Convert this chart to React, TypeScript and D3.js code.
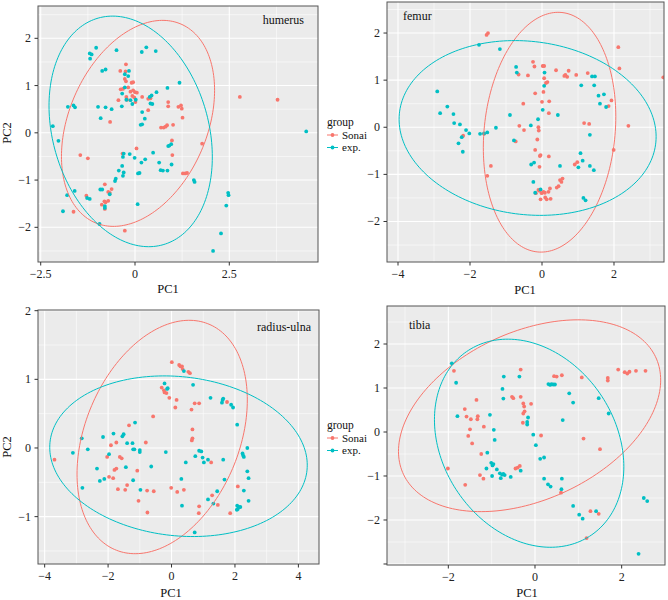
import React from "react";
import * as d3 from "d3";

type Pt = [number, number];

// ---------- DATA ----------
const groups = ["Sonai", "exp."];
const groupColors = ["#F8766D", "#00BFC4"];
const panelTitles = ["humerus", "femur", "radius-ulna", "tibia"];

const humerusSonai: Pt[] = [
  [-0.24, 1.45], [-0.39, 1.31], [-0.25, 1.3], [-0.27, 1.14], [-0.24, 1.09], [-0.09, 1.06], [-0.05, 1.07],
  [-0.38, 0.92], [-0.32, 0.93], [-0.18, 0.96], [-0.12, 0.87], [-0.05, 0.9], [0, 0.86], [0.05, 0.85],
  [-0.07, 0.78], [-0.02, 0.75], [-0.23, 0.76], [-0.21, 0.7], [-0.44, 0.69], [0.01, 0.65], [0.19, 0.76],
  [0.35, 0.72], [0.41, 0.73], [0.35, 0.48], [-0.66, 0.23], [0.69, 0.11], [0.76, 0.11], [0.81, 0.13],
  [0.85, 0.16], [1.01, 0.17], [0.88, 0.65], [0.88, 0.56], [1.15, 0.55], [1.22, 0.58], [1.24, 0.51],
  [1.26, 0.32], [2.78, 0.76], [3.78, 0.7], [1.78, -0.23], [0.98, -0.16], [0.99, -0.47], [0.04, -0.33],
  [-0.33, -0.44], [-1.45, -0.47], [-1.25, -0.54], [1.27, -0.86], [1.33, -0.86], [1.38, -0.85],
  [-0.8, -1.09], [-0.62, -1.19], [-0.67, -1.27], [-0.71, -1.25], [-1.29, -1.33], [-0.78, -1.47],
  [-0.81, -1.45], [-0.88, -1.52], [-0.8, -1.61], [-0.71, -1.44], [-1.63, -1.67], [-0.27, -2.07],
];
const humerusExp: Pt[] = [
  [-2.18, 0.14], [-2.03, -0.17], [-1.78, 0.55], [-1.63, 0.58], [-1.59, 0.54], [-1.2, 1.68], [-1.15, 1.66],
  [-1.19, 1.57], [-1.03, 1.8], [-0.87, 1.31], [-0.78, 1.34], [-0.98, 0.55], [-0.91, 0.31], [-0.78, 0.54],
  [-0.62, 0.5], [-0.49, 1.75], [-0.34, 0.83], [-0.27, 1.24], [-0.16, 1.31], [-0.18, 1.2], [-0.27, 0.96],
  [-0.23, 0.7], [-0.12, 0.69], [-0.07, 0.61], [0.02, 0.7], [-0.35, 0.56], [0.18, 1.71], [0.3, 1.81],
  [0.55, 1.73], [0.19, 0.44], [0.26, 0.3], [0.19, 0.18], [0.15, 0.17], [0.39, 0.76], [0.44, 0.79],
  [0.41, 0.62], [0.46, 0.61], [0.57, 0.86], [0.86, 0.95], [1.18, 1.06], [-0.14, -0.45], [-0.01, -0.53],
  [-0.3, -0.44], [-0.32, -0.51], [-0.34, -0.7], [-0.3, -0.84], [-0.32, -0.91], [-0.43, -0.8],
  [-0.51, -0.97], [-0.53, -1.02], [0.08, -0.86], [0.12, -0.85], [0.17, -0.63], [0.27, -0.56],
  [0.48, -0.42], [0.64, -0.63], [0.68, -0.79], [0.74, -0.8], [0.86, -0.8], [0.88, -0.28], [0.91, -0.27],
  [0.96, -0.24], [0.97, -0.67], [1.56, -1.0], [1.58, -1.04], [0.07, -1.51], [-0.92, -1.2], [-0.87, -1.2],
  [-0.8, -1.55], [-0.8, -1.59], [-0.67, -1.3], [-1.27, -1.38], [-1.2, -1.4], [-1.6, -1.23], [-1.8, -1.32],
  [-1.91, -1.66], [-0.94, -1.93], [2.47, -1.27], [2.48, -1.32], [2.42, -1.54], [2.28, -2.13],
  [2.07, -2.5], [4.54, 0.03],
];

const femurSonai: Pt[] = [
  [-1.54, 1.96], [-1.5, 2.0], [-0.25, 1.39], [-0.21, 1.29], [0.02, 1.3], [0.06, 1.3], [-0.65, 1.12],
  [-0.39, 1.1], [0.39, 1.21], [0.74, 1.2], [0.65, 1.11], [0.7, 1.07], [0.62, 1.09], [0.95, 1.11],
  [1.27, 1.15], [2.12, 1.7], [2.15, 1.25], [3.37, 1.06], [0.06, 1.04], [0.11, 0.94], [0.15, 0.96],
  [-0.19, 0.72], [0.04, 0.75], [0.0, 0.54], [0.2, 0.55], [0.19, 0.3], [-0.52, 0.5], [-0.63, 0.03],
  [-0.5, -0.06], [-0.1, 0.0], [-0.09, -0.07], [-0.13, -0.26], [-0.19, -0.48], [-0.06, -0.61],
  [-0.04, -0.59], [0.19, -0.62], [-0.07, -0.84], [-1.42, -0.82], [-1.52, -1.03], [-0.73, -0.3],
  [-2.19, -0.18], [-1.61, -0.14], [1.17, 0.09], [1.31, 0.07], [1.85, 0.45], [1.93, 0.57], [2.4, 0.03],
  [1.99, -0.48], [0.91, -0.79], [0.98, -0.74], [0.57, -1.09], [0.54, -1.16], [0.5, -1.12], [0.46, -1.25],
  [0.41, -1.28], [0.22, -1.3], [0.18, -1.37], [0.08, -1.39], [0.04, -1.37], [-0.01, -1.4], [-0.1, -1.33],
  [-0.17, -1.4], [0.09, -1.49], [0.13, -1.53], [-0.04, -1.53], [0.24, -1.52], [-0.07, -1.35],
];
const femurExp: Pt[] = [
  [-1.75, 1.75], [-1.17, 1.66], [-0.72, 1.28], [-0.7, 1.16], [0.07, 1.16], [0.06, 0.88], [0.02, 0.37],
  [-0.11, 0.17], [-0.31, 0.04], [0.44, 0.26], [-0.89, 0.26], [-1.28, -0.01], [-2.91, 0.76], [-2.63, 0.44],
  [-2.83, 0.3], [-2.46, 0.28], [-2.44, 0.09], [-2.28, 0.06], [-2.11, -0.06], [-2.02, -0.13],
  [-2.23, -0.21], [-2.32, -0.34], [-2.2, -0.52], [-1.72, -0.14], [-1.61, -0.13], [-1.52, -0.11],
  [-0.78, -0.28], [-0.3, -0.79], [-0.22, -0.75], [-0.24, -1.16], [-0.04, -1.32], [-0.19, -1.39],
  [0.5, -0.82], [1.09, 0.89], [1.39, 1.08], [1.47, 1.08], [1.45, 0.89], [1.57, 0.67], [1.61, 0.5],
  [1.72, 0.7], [1.78, 0.43], [1.07, -0.55], [1.01, -0.85], [1.13, -0.71], [1.33, -0.16], [1.33, -0.82],
  [1.44, -0.91], [1.15, -1.5], [1.21, -1.55],
];

const radiusSonai: Pt[] = [
  [0.01, 1.25], [0.24, 1.21], [0.28, 1.19], [0.33, 1.19], [0.35, 1.15], [0.53, 1.11], [0.58, 1.09],
  [-0.31, 0.88], [-0.24, 0.84], [-0.22, 0.81], [-0.16, 0.8], [-0.07, 0.73], [0.16, 0.7], [0.12, 0.59],
  [0.73, 0.65], [0.87, 0.65], [0.63, 0.56], [1.75, 0.67], [0.66, 0.27], [0.66, 0.14], [0.64, 0.11],
  [-0.58, 0.46], [-1.34, 0.33], [-1.74, 0.08], [-1.91, 0.04], [-2.03, -0.13], [-1.63, -0.13],
  [-1.57, -0.15], [-0.81, 0.08], [-1.8, -0.32], [-1.74, -0.3], [-1.97, -0.42], [-1.84, -0.44],
  [-1.4, -0.54], [-1.08, -0.33], [-1.69, -0.6], [-1.46, -0.61], [-1.04, -0.77], [-0.77, -0.62],
  [-0.56, -0.63], [-0.76, -0.94], [-3.69, -0.17], [-0.01, -0.58], [0.18, -0.64], [0.39, -0.61],
  [1.25, -0.21], [1.28, -0.69], [1.46, -0.83], [0.87, -0.85], [0.86, -0.95], [2.09, -0.56], [1.85, -0.95],
];
const radiusExp: Pt[] = [
  [0.39, 1.12], [-0.22, 0.94], [-0.12, 0.87], [-0.14, 0.86], [0.68, 0.92], [1.23, 0.73], [1.61, 0.7],
  [1.63, 0.72], [1.59, 0.66], [1.88, 0.63], [1.94, 0.59], [2.07, 0.34], [-2.83, 0.14], [-3.11, -0.07],
  [-2.64, -0.02], [-2.81, -0.58], [-2.16, 0.16], [-1.97, -0.09], [-1.83, 0.21], [-1.55, 0.17],
  [-1.51, 0.2], [-1.4, 0.07], [-1.15, 0.37], [-1.23, 0.07], [-1.21, -0.02], [-1.17, -0.02], [-1.0, -0.03],
  [-1.0, -0.06], [-1.44, -0.28], [-2.35, -0.3], [-2.26, -0.48], [-2.12, -0.45], [-1.21, -0.47],
  [-0.98, -0.61], [-0.64, -0.27], [-0.18, -0.06], [0.45, -0.21], [0.31, -0.45], [0.33, -0.84],
  [0.75, -0.12], [0.87, -0.04], [0.94, -0.05], [0.98, -0.14], [1.02, -0.21], [1.15, -0.17], [1.63, -0.17],
  [1.67, -0.46], [1.44, -0.63], [1.15, -0.75], [1.32, -0.81], [0.73, -1.23], [2.39, 0.0], [2.24, -0.08],
  [2.26, -0.11], [2.28, -0.13], [2.39, -0.34], [2.43, -0.44], [2.28, -0.62], [2.43, -0.77], [2.07, -0.84],
  [2.12, -0.86], [2.09, -0.89], [2.17, -0.86], [2.06, -0.9],
];

const tibiaSonai: Pt[] = [
  [-1.87, 1.39], [-0.33, 1.42], [0.44, 1.27], [0.5, 1.26], [0.62, 1.29], [1.08, 1.24], [1.68, 1.23],
  [1.68, 1.17], [1.92, 1.42], [2.07, 1.36], [2.13, 1.33], [2.18, 1.37], [2.33, 1.39], [2.55, 1.39],
  [-1.35, 0.73], [-1.62, 0.52], [-1.58, 0.35], [-1.48, 0.29], [-1.32, 0.36], [-1.33, 0.29], [-1.18, 0.12],
  [-1.5, 0.06], [-1.54, -0.09], [-1.45, -0.26], [-1.24, -0.5], [-0.53, 0.8], [-0.5, 0.77], [-0.33, 0.8],
  [-0.27, 0.65], [-0.25, 0.58], [-0.24, 0.47], [-0.27, 0.42], [-0.09, 0.64], [-0.28, 0.21], [0.14, -0.08],
  [1.12, -0.15], [1.5, -0.39], [-0.45, -0.83], [-0.4, -0.81], [-0.35, -0.77], [-2.01, -0.83],
  [-1.27, -0.98], [-1.19, -1.06], [-1.61, -1.2], [0.6, -1.38], [1.28, -1.8], [1.47, -1.86], [1.19, -2.41],
];
const tibiaExp: Pt[] = [
  [-1.92, 1.56], [-1.82, 1.12], [-1.79, 0.36], [-0.72, 1.26], [-0.36, 1.26], [-0.75, 0.98], [-0.73, 0.76],
  [0.31, 1.09], [0.35, 1.07], [0.38, 1.09], [0.42, 1.08], [0.46, 1.08], [0.79, 0.88], [0.88, 0.67],
  [1.47, 0.77], [1.7, 0.42], [0.64, 0.27], [-1.04, 0.39], [-0.95, 0.05], [-0.93, -0.18], [-1.1, -0.47],
  [-0.16, 0.33], [-0.18, 0.23], [-0.18, 0.17], [-0.04, -0.06], [0.02, -0.3], [0.12, -0.61], [0.21, -0.58],
  [-1.01, -0.7], [-0.96, -0.73], [-0.98, -0.76], [-1.12, -0.83], [-0.88, -0.85], [-0.99, -1.0],
  [-0.81, -0.94], [-0.76, -0.97], [-0.73, -0.95], [-0.7, -0.98], [-0.79, -1.05], [-0.56, -1.02],
  [-0.33, -0.88], [0.21, -1.06], [0.3, -1.19], [0.36, -1.24], [0.62, -1.06], [0.61, -1.3], [0.88, -1.68],
  [1.02, -1.88], [1.1, -1.97], [1.41, -1.8], [2.39, -2.77], [2.51, -1.5], [2.59, -1.57],
];

// ellipse: [centerX, centerY, halfWidth, halfHeight, yOffsetAtRightmost]
const humerusEllipses = [[0.08, 0.2, 2.03, 2.18, 0.7], [-0.115, 0.03, 2.165, 2.44, -0.54]];
const femurEllipses = [[0.21, -0.105, 1.84, 2.545, 0.33], [-0.4, -0.015, 3.57, 1.855, -0.185]];
const radiusEllipses = [[-0.295, 0.16, 2.685, 1.7, 0.54], [0.22, -0.12, 4.06, 1.17, -0.13]];
const tibiaEllipses = [[-0.125, 0.37, 3.025, 2.18, 0.81], [-0.135, -0.255, 2.185, 2.365, -0.535]];

const humerusXTicks = [-2.5, 0, 2.5];
const femurXTicks = [-4, -2, 0, 2];
const radiusXTicks = [-4, -2, 0, 2, 4];
const tibiaXTicks = [-2, 0, 2];
const humerusYTicks = [-2, -1, 0, 1, 2];
const femurYTicks = [-2, -1, 0, 1, 2];
const radiusYTicks = [-1, 0, 1, 2];
const tibiaYTicks = [-3, -2, -1, 0, 1, 2];

// ---------- LAYOUT ----------
const FONT = "'Liberation Serif', 'Times New Roman', serif";

interface PanelCfg {
  title: string;
  series: Pt[][];
  ellipses: number[][];
  xTicks: number[];
  yTicks: number[];
  xDomain: [number, number];
  yDomain: [number, number];
  box: { l: number; r: number; t: number; b: number };
  titlePos: [number, number];
  xTitlePos: [number, number];
  yTitlePos: [number, number] | null;
  hiddenYLabels?: number[];
  legend?: [number, number];
}

const panels: PanelCfg[] = [
  {
    title: panelTitles[0], series: [humerusSonai, humerusExp], ellipses: humerusEllipses,
    xTicks: humerusXTicks, yTicks: humerusYTicks, xDomain: [-2.572, 4.852], yDomain: [-2.734, 2.684],
    box: { l: 38, r: 318, t: 6, b: 262 }, titlePos: [304, 24], xTitlePos: [168, 293], yTitlePos: [11, 133],
    legend: [327, 122],
  },
  {
    title: panelTitles[1], series: [femurSonai, femurExp], ellipses: femurEllipses,
    xTicks: femurXTicks, yTicks: femurYTicks, xDomain: [-4.306, 3.389], yDomain: [-2.86, 2.659],
    box: { l: 387, r: 664, t: 2, b: 262 }, titlePos: [403, 20], xTitlePos: [525, 294], yTitlePos: null,
  },
  {
    title: panelTitles[2], series: [radiusSonai, radiusExp], ellipses: radiusEllipses,
    xTicks: radiusXTicks, yTicks: radiusYTicks, xDomain: [-4.21, 4.65], yDomain: [-1.69, 2.01],
    box: { l: 38, r: 319, t: 310, b: 564 }, titlePos: [311, 331], xTitlePos: [171, 597], yTitlePos: [11, 447],
    legend: [327, 425],
  },
  {
    title: panelTitles[3], series: [tibiaSonai, tibiaExp], ellipses: tibiaEllipses,
    xTicks: tibiaXTicks, yTicks: tibiaYTicks, xDomain: [-3.415, 3.0], yDomain: [-3.023, 2.864],
    box: { l: 387, r: 665, t: 306, b: 565 }, titlePos: [409, 329], xTitlePos: [527, 597], yTitlePos: null,
    hiddenYLabels: [-3],
  },
];

const fmt = (v: number) => String(v).replace("-", "\u2212");

function minorBreaks(ticks: number[], domain: [number, number]) {
  const step = ticks[1] - ticks[0];
  const res: number[] = [];
  for (let v = ticks[0] - step * 2; v <= ticks[ticks.length - 1] + step * 2 + 1e-9; v += step) {
    const m = v + step / 2;
    if (m >= domain[0] && m <= domain[1]) res.push(m);
  }
  return res;
}

function Panel({ cfg, idx }: { cfg: PanelCfg; idx: number }) {
  const { box } = cfg;
  const x = d3.scaleLinear().domain(cfg.xDomain).range([box.l, box.r]);
  const y = d3.scaleLinear().domain(cfg.yDomain).range([box.b, box.t]);
  const xMinor = minorBreaks(cfg.xTicks, cfg.xDomain);
  const yMinor = minorBreaks(cfg.yTicks, cfg.yDomain);
  const clipId = `clip${idx}`;
  const line = d3.line<Pt>().x((d) => x(d[0])).y((d) => y(d[1])).curve(d3.curveLinearClosed);
  const ellipsePts = (e: number[]): Pt[] => {
    const [cx, cy, W, H, k] = e;
    const s = Math.sqrt(Math.max(H * H - k * k, 0));
    return d3.range(0, 200).map((i) => {
      const t = (i / 200) * Math.PI * 2;
      return [cx + W * Math.cos(t), cy + k * Math.cos(t) + s * Math.sin(t)] as Pt;
    });
  };
  const inX = (v: number) => v >= cfg.xDomain[0] && v <= cfg.xDomain[1];
  const inY = (v: number) => v >= cfg.yDomain[0] && v <= cfg.yDomain[1];
  return (
    <g>
      <defs>
        <clipPath id={clipId}>
          <rect x={box.l} y={box.t} width={box.r - box.l} height={box.b - box.t} />
        </clipPath>
      </defs>
      <rect x={box.l} y={box.t} width={box.r - box.l} height={box.b - box.t} fill="#EBEBEB" />
      {xMinor.map((v) => (
        <line key={"xm" + v} x1={x(v)} x2={x(v)} y1={box.t} y2={box.b} stroke="#fff" strokeWidth={0.55} />
      ))}
      {yMinor.map((v) => (
        <line key={"ym" + v} x1={box.l} x2={box.r} y1={y(v)} y2={y(v)} stroke="#fff" strokeWidth={0.55} />
      ))}
      {cfg.xTicks.filter(inX).map((v) => (
        <line key={"xg" + v} x1={x(v)} x2={x(v)} y1={box.t} y2={box.b} stroke="#fff" strokeWidth={1.1} />
      ))}
      {cfg.yTicks.filter(inY).map((v) => (
        <line key={"yg" + v} x1={box.l} x2={box.r} y1={y(v)} y2={y(v)} stroke="#fff" strokeWidth={1.1} />
      ))}
      <g clipPath={`url(#${clipId})`}>
        {cfg.series.map((s, gi) =>
          s.map((d, i) => (
            <circle key={gi + "-" + i} cx={x(d[0])} cy={y(d[1])} r={1.9} fill={groupColors[gi]} />
          ))
        )}
        {cfg.ellipses.map((e, gi) => (
          <path key={"e" + gi} d={line(ellipsePts(e)) || ""} fill="none" stroke={groupColors[gi]} strokeWidth={1} />
        ))}
      </g>
      <rect x={box.l} y={box.t} width={box.r - box.l} height={box.b - box.t} fill="none" stroke="#555" strokeWidth={1} />
      {cfg.xTicks.filter(inX).map((v) => (
        <g key={"xt" + v}>
          <line x1={x(v)} x2={x(v)} y1={box.b} y2={box.b + 3.5} stroke="#333" />
          <text x={x(v)} y={box.b + 16} textAnchor="middle" fontSize={12} fontFamily={FONT} fill="#222">
            {fmt(v)}
          </text>
        </g>
      ))}
      {cfg.yTicks.filter(inY).map((v) => (
        <g key={"yt" + v}>
          <line x1={box.l - 3.5} x2={box.l} y1={y(v)} y2={y(v)} stroke="#333" />
          {!(cfg.hiddenYLabels || []).includes(v) && (
            <text x={box.l - 7} y={y(v) + 4} textAnchor="end" fontSize={12} fontFamily={FONT} fill="#222">
              {fmt(v)}
            </text>
          )}
        </g>
      ))}
      <text x={cfg.titlePos[0]} y={cfg.titlePos[1]} textAnchor={idx % 2 === 0 ? "end" : "start"} fontSize={12} fontFamily={FONT} fill="#111">
        {cfg.title}
      </text>
      <text x={cfg.xTitlePos[0]} y={cfg.xTitlePos[1]} textAnchor="middle" fontSize={12.5} fontFamily={FONT} fill="#111">
        PC1
      </text>
      {cfg.yTitlePos && (
        <text
          transform={`translate(${cfg.yTitlePos[0]},${cfg.yTitlePos[1]}) rotate(-90)`}
          textAnchor="middle"
          fontSize={12.5}
          fontFamily={FONT}
          fill="#111"
        >
          PC2
        </text>
      )}
      {cfg.legend && (
        <g transform={`translate(${cfg.legend[0]},${cfg.legend[1]})`}>
          <text x={0} y={4} fontSize={11.5} fontFamily={FONT} fill="#111">group</text>
          {groups.map((g, gi) => (
            <g key={g} transform={`translate(0,${13 + gi * 12.5})`}>
              <line x1={0} x2={11} y1={0} y2={0} stroke={groupColors[gi]} strokeWidth={1} />
              <circle cx={5.5} cy={0} r={1.9} fill={groupColors[gi]} />
              <text x={15} y={3.5} fontSize={11} fontFamily={FONT} fill="#111">{g}</text>
            </g>
          ))}
        </g>
      )}
    </g>
  );
}

export default function App() {
  return (
    <svg width={668} height={600} style={{ position: "absolute", left: 0, top: 0, background: "#fff" }}>
      <rect x={0} y={0} width={668} height={600} fill="#fff" />
      {panels.map((p, i) => (
        <Panel key={i} cfg={p} idx={i} />
      ))}
    </svg>
  );
}
